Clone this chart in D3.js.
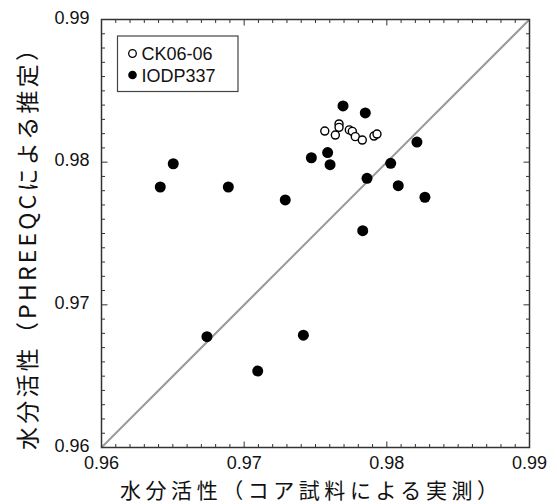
<!DOCTYPE html>
<html lang="ja">
<head>
<meta charset="UTF-8">
<title>水分活性 比較</title>
<script src="https://d3js.org/d3.v7.min.js"></script>
<style>
  body { margin: 0; background: #fff; }
  svg text { fill: #111; }
  .num { font-family: "Liberation Sans", Arial, sans-serif; font-size: 18px; }
  .jp { font-family: "Noto Sans CJK JP", sans-serif; font-size: 22px; }
</style>
</head>
<body>
<svg id="chart" width="557" height="504"></svg>
<script>
// --- Data ---
const ckX = [0.97565, 0.97639, 0.97665, 0.97665, 0.97737, 0.97758, 0.97779, 0.97828, 0.97910, 0.97931];
const ckY = [0.98218, 0.98190, 0.98268, 0.98244, 0.98226, 0.98216, 0.98179, 0.98155, 0.98183, 0.98197];

const iodpX = [0.96412, 0.96503, 0.96889, 0.97693, 0.97849, 0.98211, 0.97471, 0.97585, 0.97602,
               0.98027, 0.97861, 0.98080, 0.98267, 0.97288, 0.97831, 0.96739, 0.97095, 0.97415];
const iodpY = [0.97826, 0.97989, 0.97826, 0.98394, 0.98345, 0.98141, 0.98031, 0.98067, 0.97982,
               0.97992, 0.97887, 0.97835, 0.97754, 0.97735, 0.97520, 0.96777, 0.96536, 0.96787];

const majorTicks = [0.96, 0.97, 0.98, 0.99];
const seriesNames = ["CK06-06", "IODP337"];
const xLabel = "水分活性（コア試料による実測）";
const yLabel = "水分活性（PHREEQCによる推定）";

// --- Layout ---
const svg = d3.select("#chart");
const plotL = 101.5, plotR = 529.5, plotT = 19.5, plotB = 447.5;

const x = d3.scaleLinear().domain([0.96, 0.99]).range([plotL, plotR]);
const y = d3.scaleLinear().domain([0.96, 0.99]).range([plotB, plotT]);

const minor = d3.range(0, 31).map(i => 0.96 + i * 0.001);
const isMajor = v => majorTicks.some(m => Math.abs(m - v) < 1e-6);

// 1:1 line
svg.append("line")
    .attr("x1", x(0.96)).attr("y1", y(0.96))
    .attr("x2", x(0.99)).attr("y2", y(0.99))
    .attr("stroke", "#9a9a9a").attr("stroke-width", 2);

// ticks on all four sides, pointing inward
const tg = svg.append("g").attr("stroke", "#333").attr("stroke-width", 1);
minor.forEach(v => {
    const len = isMajor(v) ? 6 : 3.5;
    tg.append("line").attr("x1", x(v)).attr("x2", x(v)).attr("y1", plotB).attr("y2", plotB - len);
    tg.append("line").attr("x1", x(v)).attr("x2", x(v)).attr("y1", plotT).attr("y2", plotT + len);
    tg.append("line").attr("y1", y(v)).attr("y2", y(v)).attr("x1", plotL).attr("x2", plotL + len);
    tg.append("line").attr("y1", y(v)).attr("y2", y(v)).attr("x1", plotR).attr("x2", plotR - len);
});

// frame
svg.append("rect")
    .attr("x", plotL).attr("y", plotT)
    .attr("width", plotR - plotL).attr("height", plotB - plotT)
    .attr("fill", "none").attr("stroke", "#333").attr("stroke-width", 1.5);

// tick labels
const fmt = d3.format(".2f");
svg.selectAll(".xt").data(majorTicks).join("text")
    .attr("class", "num")
    .attr("x", d => x(d)).attr("y", plotB + 21)
    .attr("text-anchor", "middle")
    .text(fmt);
svg.selectAll(".yt").data(majorTicks).join("text")
    .attr("class", "num")
    .attr("x", plotL - 12).attr("y", d => y(d) + 4)
    .attr("text-anchor", "end")
    .text(fmt);

// points
const iodp = iodpX.map((v, i) => ({ x: v, y: iodpY[i] }));
const ck = ckX.map((v, i) => ({ x: v, y: ckY[i] }));

svg.append("g").selectAll("circle").data(iodp).join("circle")
    .attr("cx", d => x(d.x)).attr("cy", d => y(d.y))
    .attr("r", 5.5).attr("fill", "#000");

svg.append("g").selectAll("circle").data(ck).join("circle")
    .attr("cx", d => x(d.x)).attr("cy", d => y(d.y))
    .attr("r", 4).attr("fill", "#fff").attr("stroke", "#000").attr("stroke-width", 1.4);

// legend
const lg = svg.append("g");
lg.append("rect")
    .attr("x", 117.5).attr("y", 36).attr("width", 120.5).attr("height", 55.5)
    .attr("fill", "#fff").attr("stroke", "#444").attr("stroke-width", 1.2);
lg.append("circle").attr("cx", 132.5).attr("cy", 53.5).attr("r", 3.8)
    .attr("fill", "#fff").attr("stroke", "#000").attr("stroke-width", 1.3);
lg.append("circle").attr("cx", 132.5).attr("cy", 75).attr("r", 4.3).attr("fill", "#000");
lg.selectAll("text").data(seriesNames).join("text")
    .attr("class", "num")
    .attr("x", 141.5).attr("y", (d, i) => 60 + i * 22)
    .text(d => d);

// axis titles
svg.append("text")
    .attr("class", "jp")
    .style("font-size", "21px")
    .attr("x", 120).attr("y", 497.5)
    .attr("textLength", 378).attr("lengthAdjust", "spacing")
    .text(xLabel);

svg.append("text")
    .attr("class", "jp")
    .style("font-size", "23px")
    .attr("transform", "translate(36,450) rotate(-90)")
    .attr("textLength", 412).attr("lengthAdjust", "spacing")
    .text(yLabel);
</script>
</body>
</html>
